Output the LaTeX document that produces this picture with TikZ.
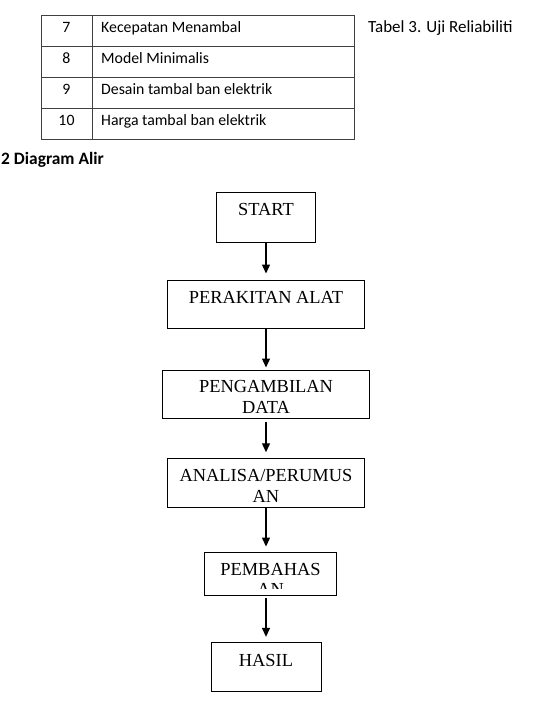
\documentclass[tikz,border=0pt]{standalone}
\usepackage{fontspec}
\setmainfont{Liberation Serif}
\newfontfamily\tabfont{Carlito}
\usepackage{tikz}
\usetikzlibrary{arrows.meta,positioning}
\definecolor{TabGray}{HTML}{404040}

\begin{document}
\begin{tikzpicture}[x=1pt,y=-1pt,
		tabline/.style={TabGray,line width=0.9pt},
		cell/.style={font=\tabfont\fontsize{15.8}{19}\selectfont,anchor=base,inner sep=0pt},
		flowbox/.style={draw,line width=0.9pt,inner sep=0pt},
		flowtext/.style={font=\fontsize{18.4}{20.5}\selectfont,align=center,anchor=base,inner sep=0pt},
		flowarrow/.style={-{Triangle[length=9pt,width=8pt]},line width=1.3pt}]
		\useasboundingbox (0,0) rectangle (538,709);
		% table
		\draw[tabline] (41,15.7) rectangle (354,139);
		\draw[tabline] (92,15.7) -- (92,139);
		\foreach \y in {46.5,77.3,108.2}
		\draw[tabline] (41,\y) -- (354,\y);
		\foreach \n/\t [count=\i from 0] in {7/Kecepatan Menambal,8/Model Minimalis,9/Desain tambal ban elektrik,10/Harga tambal ban elektrik}{
			\node[cell] (num\i) at (66.5,32.3+30.9*\i) {\n};
			\node[cell,anchor=base west] (txt\i) at (101,32.3+30.9*\i) {\t};
		}
		\node[cell,anchor=base west,font=\tabfont\fontsize{17}{20}\selectfont] (caption) at (368,32.3) {Tabel 3. Uji Reliabiliti};
		\node[cell,anchor=base west,font=\tabfont\bfseries\fontsize{17.4}{20}\selectfont] (heading) at (1,164) {2 Diagram Alir};
		% flow boxes
		\node[flowbox,minimum width=99,minimum height=50] (start) at (266,217.3) {};
		\node[flowbox,minimum width=197,minimum height=48.7] (perakitan) at (266,304.3) {};
		\node[flowbox,minimum width=207.7,minimum height=48.7] (pengambilan) at (266,394.3) {};
		\node[flowbox,minimum width=197,minimum height=48.6] (analisa) at (266,483) {};
		\node[flowbox,minimum width=131.6,minimum height=43] (pembahasan) at (270.5,573.5) {};
		\node[flowbox,minimum width=110,minimum height=49] (hasil) at (266,666.8) {};
		% labels
		\node[flowtext] (startlbl) at (266,215.3) {START};
		\node[flowtext] (perakitanlbl) at (266,303.7) {PERAKITAN ALAT};
		\node[flowtext] (pengambilanlbl) at (266,413.3) {PENGAMBILAN\\DATA};
		\node[flowtext] (analisalbl) at (266,502) {ANALISA/PERUMUS\\AN};
		\begin{scope}
			\clip (204.7,552) rectangle (336.3,588.3);
			\node[flowtext] (pembahasanlbl) at (270.5,595.5) {PEMBAHAS\\AN};
		\end{scope}
		\node[flowtext] (hasillbl) at (266,666) {HASIL};
		% arrows
		\draw[flowarrow,shorten >=6pt] (start.south) -- (perakitan.north);
		\draw[flowarrow,shorten >=2pt] (perakitan.south) -- (pengambilan.north);
		\draw[flowarrow,shorten <=3pt,shorten >=6pt] (pengambilan.south) -- (analisa.north);
		\draw[flowarrow,shorten >=5pt] (analisa.south) -- (analisa.south |- pembahasan.north);
		\draw[flowarrow,shorten <=3pt,shorten >=5pt] (hasil.north |- pembahasan.south) -- (hasil.north);
	\end{tikzpicture}
\end{document}
